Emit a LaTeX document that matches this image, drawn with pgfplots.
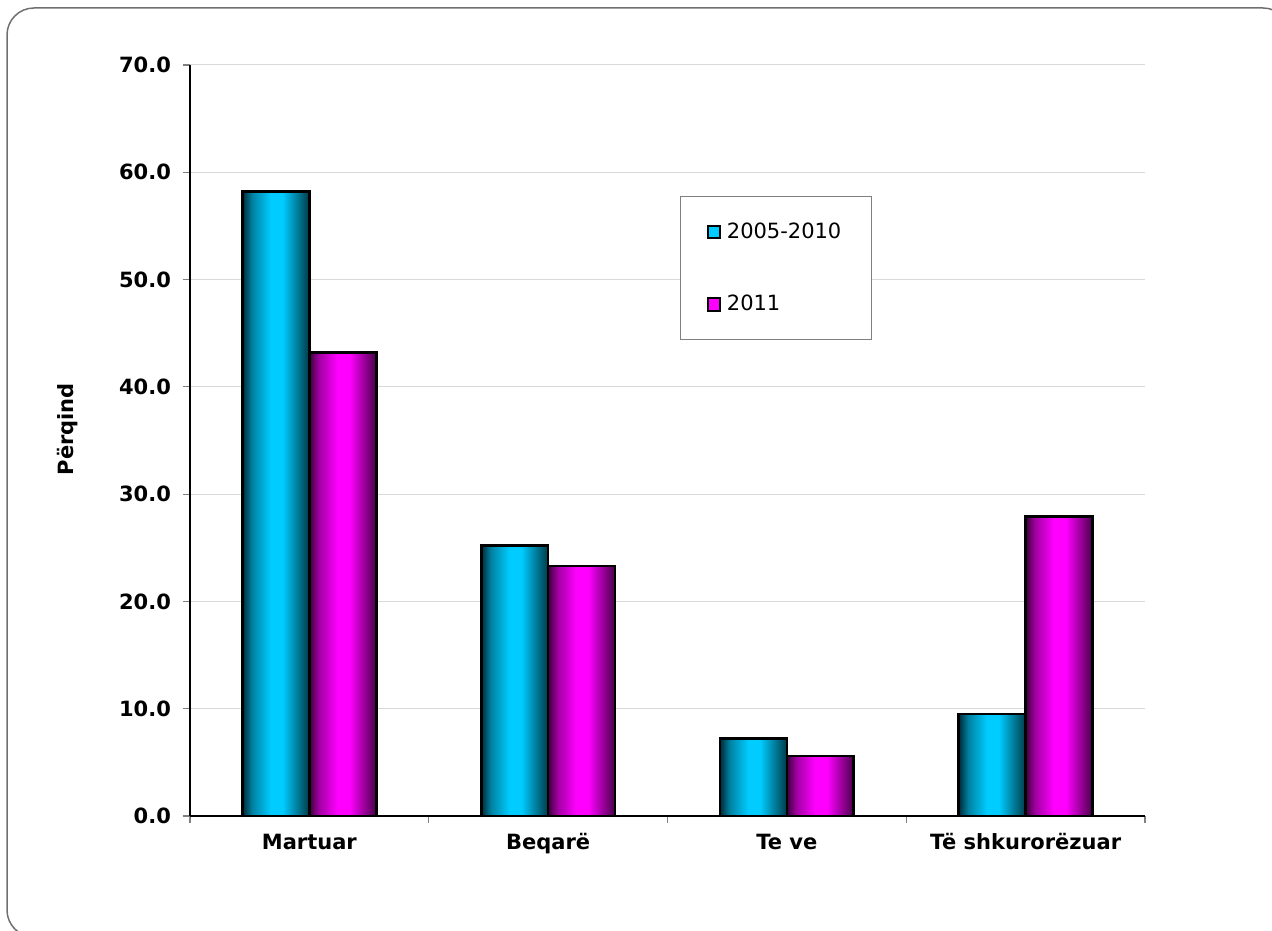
\documentclass[border=0pt]{standalone}
\usepackage{pgfplots}
\pgfplotsset{compat=1.18}
\usepackage{fontspec}
\setmainfont{DejaVu Sans}

\definecolor{cyD}{HTML}{002A38}
\definecolor{cyM}{HTML}{0080A0}
\definecolor{cyB}{HTML}{00CCFF}
\definecolor{cyR}{HTML}{003A48}
\definecolor{mgD}{HTML}{3A003A}
\definecolor{mgM}{HTML}{A000A0}
\definecolor{mgB}{HTML}{FF00FF}
\definecolor{mgR}{HTML}{480048}
\definecolor{gridc}{HTML}{D9D9D9}
\definecolor{framec}{HTML}{707070}

% the bar's bounding box maps onto 25bp..75bp of the shading
\pgfdeclarehorizontalshading{cyanbar}{100bp}{color(0bp)=(cyD); color(25bp)=(cyD); color(32bp)=(cyM); color(46bp)=(cyB); color(55bp)=(cyB); color(75bp)=(cyR); color(100bp)=(cyR)}
\pgfdeclarehorizontalshading{magbar}{100bp}{color(0bp)=(mgD); color(25bp)=(mgD); color(32bp)=(mgM); color(46bp)=(mgB); color(55bp)=(mgB); color(75bp)=(mgR); color(100bp)=(mgR)}

% each bar is its own plot so that the shading covers one bar only
\pgfplotsset{
  cybar/.style={ybar, bar shift=-0.14, shading=cyanbar, draw=black, line width=1.3pt, forget plot},
  mgbar/.style={ybar, bar shift=0.14, shading=magbar, draw=black, line width=1.3pt, forget plot},
}

\begin{document}
\begin{tikzpicture}
\path[use as bounding box, clip] (0,0) rectangle (636pt,465pt);
\draw[framec, line width=0.75pt, rounded corners=13.5pt] (3.5pt,461pt) rectangle (645pt,-3.5pt);

\begin{axis}[
  at={(95pt,57pt)}, anchor=south west,
  scale only axis,
  width=477.5pt, height=375.5pt,
  ymin=0, ymax=70,
  ytick={0,10,...,70},
  xmin=-0.5, xmax=3.5,
  xtick={0,1,2,3},
  xticklabels={Martuar, Beqarë, Te ve, Të shkurorëzuar},
  minor xtick={-0.5,0.5,1.5,2.5,3.5},
  major x tick style={draw=none},
  tick align=outside,
  tick pos=lower,
  major tick length=3.5pt,
  minor tick length=3.5pt,
  tick style={draw=gray, line width=0.6pt},
  axis x line*=bottom,
  axis y line*=left,
  axis line style={black, line width=0.9pt},
  ymajorgrids,
  grid style={gridc, line width=0.5pt},
  /pgf/number format/assume math mode=true,
  yticklabel={\pgfmathprintnumber[fixed, fixed zerofill, precision=1]{\tick}},
  yticklabel style={font=\bfseries\fontsize{10.5}{12}\selectfont, xshift=-2.5pt},
  xticklabel style={font=\bfseries\fontsize{10.5}{12}\selectfont, text height=8pt, text depth=2.2pt, yshift=-1.5pt},
  ylabel={Përqind},
  ylabel style={font=\bfseries\fontsize{10.5}{12}\selectfont, at={(axis description cs:-0.1285,0.515)}, anchor=center},
  bar width=0.28,
  legend style={at={(axis description cs:0.513,0.8256)}, anchor=north west,
    draw=gray, line width=0.6pt, inner xsep=13pt, inner ysep=11pt, row sep=23pt,
    font=\fontsize{10.5}{12}\selectfont, cells={anchor=west},
    /tikz/every odd column/.append style={column sep=1pt}},
  legend cell align=left,
]
\addplot[cybar] coordinates {(0,58.2)};
\addplot[cybar] coordinates {(1,25.2)};
\addplot[cybar] coordinates {(2,7.2)};
\addplot[cybar] coordinates {(3,9.5)};
\addplot[mgbar] coordinates {(0,43.2)};
\addplot[mgbar] coordinates {(1,23.3)};
\addplot[mgbar] coordinates {(2,5.6)};
\addplot[mgbar] coordinates {(3,27.9)};
\addlegendimage{legend image code/.code={\draw[fill=cyB, draw=black, line width=1pt] (0pt,-3.1pt) rectangle (6.2pt,3.1pt);}}
\addlegendentry{2005-2010}
\addlegendimage{legend image code/.code={\draw[fill=mgB, draw=black, line width=1pt] (0pt,-3.1pt) rectangle (6.2pt,3.1pt);}}
\addlegendentry{2011}
\end{axis}
\end{tikzpicture}
\end{document}
